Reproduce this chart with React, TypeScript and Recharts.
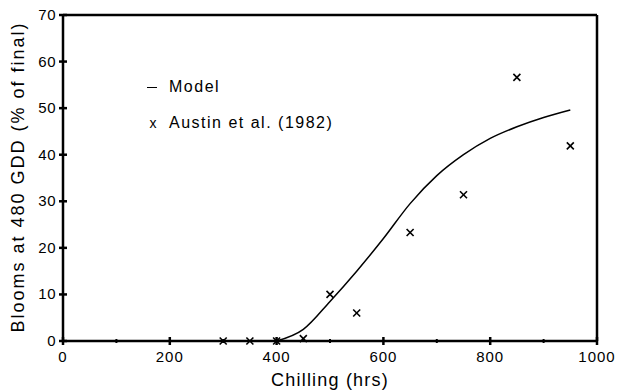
import React from 'react';
import { ComposedChart, Line, Scatter, XAxis, YAxis, ReferenceLine } from 'recharts';

// Model curve (hrs of chilling vs % blooms)
const modelHours = [400, 450, 500, 550, 600, 650, 700, 750, 800, 850, 900, 950];
const modelBlooms = [0, 2.5, 8.5, 15, 22, 29.5, 35.5, 40, 43.5, 46, 48, 49.6];

// Austin et al. (1982) observations
const obsHours = [300, 350, 400, 450, 500, 550, 650, 750, 850, 950];
const obsBlooms = [0, 0, 0, 0.5, 10, 6, 23.3, 31.4, 56.6, 41.9];

const xTicks = [0, 100, 200, 300, 400, 500, 600, 700, 800, 900, 1000];
const yTicks = [0, 10, 20, 30, 40, 50, 60, 70];

const modelData = modelHours.map((x, i) => ({ x, model: modelBlooms[i] }));
const obsData = obsHours.map((x, i) => ({ x, obs: obsBlooms[i] }));

const FONT = '"Liberation Sans", Arial, sans-serif';

const XTick = (props: any) => {
  const { x, y, payload } = props;
  const major = payload.value % 200 === 0;
  return (
    <g>
      <line x1={x} x2={x} y1={y - (major ? 4 : 2)} y2={y + (major ? 4 : 2)} stroke="#000" strokeWidth={major ? 2.5 : 2} />
      {major && (
        <text x={x} y={y + 21} textAnchor="middle" fontSize={15} fontFamily={FONT} fill="#000" style={{ letterSpacing: 1 }}>
          {payload.value}
        </text>
      )}
    </g>
  );
};

const YTick = (props: any) => {
  const { x, y, payload } = props;
  return (
    <g>
      <line x1={x - 4} x2={x + 4} y1={y} y2={y} stroke="#000" strokeWidth={2.5} />
      <text x={x - 7} y={y + 5} textAnchor="end" fontSize={15} fontFamily={FONT} fill="#000" style={{ letterSpacing: 0.5 }}>
        {payload.value}
      </text>
    </g>
  );
};

const Cross = (props: any) => {
  const { cx, cy } = props;
  const s = 3.5;
  return (
    <g stroke="#000" strokeWidth={1.6}>
      <line x1={cx - s} y1={cy - s} x2={cx + s} y2={cy + s} />
      <line x1={cx - s} y1={cy + s} x2={cx + s} y2={cy - s} />
    </g>
  );
};

const LegendBox = () => (
  <div
    style={{
      position: 'absolute',
      left: 147,
      top: 69,
      fontFamily: FONT,
      fontSize: 16,
      letterSpacing: 1.5,
      color: '#000',
      lineHeight: '36px',
      whiteSpace: 'nowrap',
    }}
  >
    <div>
      <span style={{ display: 'inline-block', width: 10, borderTop: '1.5px solid #000', verticalAlign: 'middle', marginRight: 12 }} />
      Model
    </div>
    <div>
      <span style={{ display: 'inline-block', width: 12, textAlign: 'center', marginRight: 10, fontSize: 14, letterSpacing: 0 }}>x</span>
      Austin et al. (1982)
    </div>
  </div>
);

const App: React.FC = () => {
  return (
    <div style={{ position: 'absolute', left: 0, top: 0, width: 617, height: 391, background: '#fff' }}>
      <ComposedChart width={617} height={391} margin={{ top: 15, right: 20, bottom: 0, left: 0 }}>
        <XAxis
          dataKey="x"
          type="number"
          domain={[0, 1000]}
          ticks={xTicks}
          interval={0}
          tickSize={0}
          tickMargin={0}
          tick={<XTick />}
          height={50}
          axisLine={{ stroke: '#000', strokeWidth: 2.5 }}
          label={({ viewBox }: any) => (
            <text
              x={viewBox.x + viewBox.width / 2}
              y={386}
              textAnchor="middle"
              fontSize={18}
              fontFamily={FONT}
              fill="#000"
              style={{ letterSpacing: 1.2 }}
            >
              Chilling (hrs)
            </text>
          )}
        />
        <YAxis
          type="number"
          domain={[0, 70]}
          ticks={yTicks}
          interval={0}
          tickSize={0}
          tickMargin={0}
          tick={<YTick />}
          width={63}
          axisLine={{ stroke: '#000', strokeWidth: 2.5 }}
          label={({ viewBox }: any) => (
            <text
              x={viewBox.x + 19}
              y={177}
              transform={`rotate(-90, ${viewBox.x + 19}, 177)`}
              textAnchor="middle"
              dominantBaseline="middle"
              fontSize={18}
              fontFamily={FONT}
              fill="#000"
              style={{ letterSpacing: 2 }}
            >
              Blooms at 480 GDD (% of final)
            </text>
          )}
        />
        <ReferenceLine y={70} stroke="#000" strokeWidth={2.5} />
        <ReferenceLine x={1000} stroke="#000" strokeWidth={2.5} />
        <Line
          data={modelData}
          dataKey="model"
          type="monotone"
          stroke="#000"
          strokeWidth={1.5}
          dot={false}
          isAnimationActive={false}
        />
        <Scatter data={obsData} dataKey="obs" shape={<Cross />} isAnimationActive={false} />
      </ComposedChart>
      <LegendBox />
    </div>
  );
};

export default App;
